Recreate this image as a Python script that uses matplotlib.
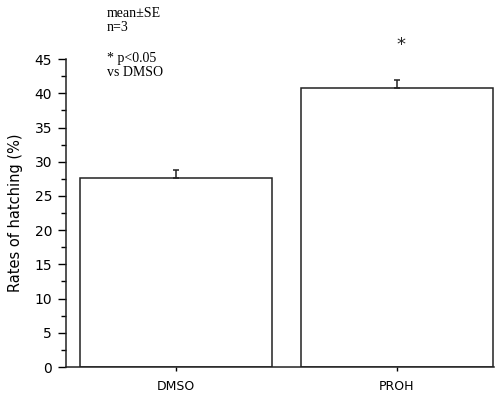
import matplotlib.pyplot as plt
import numpy as np

# values
groups = ['DMSO', 'PROH']
means = [27.6, 40.8]
se = [1.2, 1.2]
star_y = 47.1

fig = plt.figure(figsize=(5.04, 3.94), dpi=100)
ax = fig.add_axes([0.131, 0.0685, 0.849, 0.7815])

x = np.arange(len(groups))
ax.bar(x, means, width=0.87, color='white', edgecolor='#222222', linewidth=1.1)
ax.errorbar(x, means, yerr=[[0, 0], se], fmt='none', ecolor='#222222',
            elinewidth=1.1, capsize=2, capthick=1.1)

# significance star above PROH
ax.text(1.02, star_y, '*', ha='center', va='center', fontsize=13,
        color='#222222', clip_on=False)

ax.set_xlim(-0.5, 1.44)
ax.set_ylim(0, 45)
ax.set_xticks(x)
ax.set_xticklabels(groups, fontsize=9)
ax.set_yticks(np.arange(0, 50, 5))
ax.set_yticks(np.arange(2.5, 45, 5), minor=True)
ax.tick_params(axis='y', which='major', length=6, width=1, labelsize=10, pad=4)
ax.tick_params(axis='y', which='minor', length=3.5, width=1)
ax.tick_params(axis='x', length=3, width=1, pad=6)
ax.set_ylabel('Rates of hatching (%)', fontsize=10.5, labelpad=8)

for s in ['top', 'right']:
    ax.spines[s].set_visible(False)
for s in ['left', 'bottom']:
    ax.spines[s].set_linewidth(1.1)
    ax.spines[s].set_color('#222222')

fig.text(0.212, 0.982, 'mean±SE\nn=3', family='Liberation Serif', fontsize=10,
         va='top', ha='left', linespacing=1.1)
fig.text(0.212, 0.868, '* p<0.05\nvs DMSO', family='Liberation Serif', fontsize=10,
         va='top', ha='left', linespacing=1.1)

fig.savefig('out.png', dpi=100)
